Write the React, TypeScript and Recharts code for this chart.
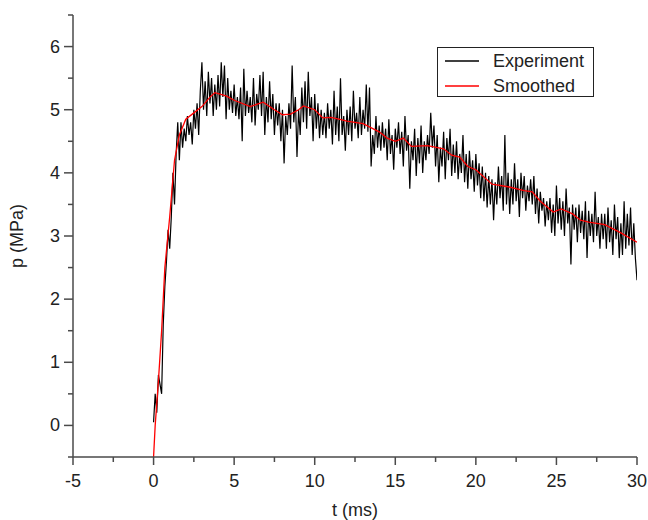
import React from 'react';
import { LineChart, Line, XAxis, YAxis, Legend, Label } from 'recharts';

// experiment samples, one every 0.1 ms starting at t = 0
const EXP_T0 = 0;
const EXP_STEP = 0.1;
const EXP_P = [
  0.05, 0.5, 0.2, 0.8, 0.65, 0.5, 1.6, 2.2, 2.6, 3.1,
  2.8, 3.3, 4.0, 3.5, 4.3, 4.8, 4.2, 4.8, 4.4, 4.7,
  4.5, 4.9, 4.6, 4.8, 4.45, 5.0, 4.7, 5.1, 4.6, 5.3,
  5.75, 5.0, 5.45, 4.9, 5.6, 5.1, 5.5, 4.9, 5.4, 5.0,
  5.55, 5.05, 5.75, 5.2, 5.7, 4.85, 5.5, 5.0, 5.3, 4.95,
  5.4, 4.9, 5.2, 4.85, 5.35, 4.5, 5.65, 4.9, 5.3, 4.95,
  5.2, 4.8, 5.5, 4.75, 5.25, 5.0, 5.55, 4.9, 5.6, 4.6,
  5.2, 4.8, 5.45, 4.85, 5.25, 4.6, 5.1, 4.75, 5.1, 4.5,
  5.0, 4.15, 4.9, 4.6, 5.1, 4.7, 5.7, 4.8, 5.2, 4.25,
  5.0, 4.6, 5.35, 4.8, 5.45, 4.7, 5.6, 4.9, 5.2, 4.5,
  5.25, 4.7, 5.1, 4.55, 5.0, 4.6, 4.95, 4.55, 5.1, 4.7,
  5.0, 4.45, 5.3, 4.6, 5.05, 4.5, 5.5, 4.6, 4.9, 4.35,
  5.0, 4.6, 5.05, 4.5, 5.3, 4.7, 4.95, 4.55, 5.2, 4.6,
  5.0, 4.7, 5.4, 4.65, 5.35, 4.1, 4.6, 4.3, 4.9, 4.4,
  4.75, 4.35, 4.8, 4.4, 4.7, 4.2, 4.85, 4.3, 4.6, 4.05,
  4.7, 4.4, 4.8, 4.3, 4.65, 4.1, 4.9, 4.35, 4.6, 3.75,
  4.5, 4.2, 4.7, 3.95, 4.55, 4.15, 4.75, 4.0, 4.5, 4.2,
  4.6, 4.3, 4.95, 4.4, 4.75, 4.1, 4.6, 3.85, 4.4, 4.1,
  4.65, 3.9, 4.55, 4.2, 4.7, 3.95, 4.45, 4.0, 4.5, 3.9,
  4.3, 4.0, 4.6, 3.85, 4.3, 3.75, 4.35, 3.9, 4.2, 3.7,
  4.3, 3.8, 4.15, 3.6, 4.1, 3.55, 4.0, 3.45, 3.95, 3.5,
  3.9, 3.25, 3.85, 3.5, 4.1, 3.6, 3.95, 3.4, 4.6, 3.5,
  4.0, 3.35, 3.9, 3.5, 4.15, 3.55, 3.9, 3.3, 4.0, 3.6,
  3.95, 3.4, 3.8, 3.55, 3.9, 3.5, 3.95, 3.35, 3.75, 3.2,
  3.7, 3.4, 3.6, 3.15, 3.55, 3.25, 3.6, 3.05, 3.5, 3.0,
  3.8, 3.2, 3.6, 3.1, 3.55, 3.0, 3.75, 3.2, 3.45, 2.55,
  3.5, 3.1, 3.45, 2.9, 3.5, 3.05, 3.4, 2.95, 3.55, 2.65,
  3.4, 3.0, 3.35, 2.9, 3.7, 3.0, 3.3, 2.8, 3.35, 2.95,
  3.35, 2.8, 3.45, 2.9, 3.25, 2.7, 3.5, 2.95, 3.3, 2.65,
  3.2, 2.7, 3.55, 2.8, 3.35, 2.85, 3.45, 2.7, 3.2, 2.65,
  2.3,
];

// smoothed curve
const SMOOTH_T = [
  0, 0.1, 0.3, 0.5, 0.7, 1.0, 1.3, 1.6, 2.0, 2.5, 3.0, 3.5, 3.8, 4.5, 5.0,
  6.0, 6.8, 7.5, 8.0, 8.5, 9.0, 9.3, 10.0, 10.5, 11.0, 11.5, 12.0, 13.0,
  14.0, 14.5, 15.0, 15.5, 16.0, 17.0, 18.0, 18.5, 19.0, 19.5, 20.0, 21.0,
  22.0, 23.0, 23.5, 24.0, 24.8, 25.3, 26.0, 26.5, 27.0, 28.0, 29.0, 30.0,
];
const SMOOTH_P = [
  -0.5, 0, 0.7, 1.5, 2.5, 3.3, 4.2, 4.6, 4.85, 4.95, 5.05, 5.2, 5.27, 5.22, 5.15,
  5.05, 5.12, 5.0, 4.92, 4.93, 5.0, 5.06, 5.0, 4.87, 4.88, 4.85, 4.82, 4.78,
  4.65, 4.55, 4.5, 4.55, 4.42, 4.43, 4.38, 4.28, 4.25, 4.1, 4.05, 3.82,
  3.78, 3.72, 3.7, 3.55, 3.38, 3.43, 3.35, 3.25, 3.22, 3.18, 3.05, 2.9,
];

const X_TICKS = [-5, -2.5, 0, 2.5, 5, 7.5, 10, 12.5, 15, 17.5, 20, 22.5, 25, 27.5, 30];
const Y_TICKS = [-0.5, 0, 0.5, 1, 1.5, 2, 2.5, 3, 3.5, 4, 4.5, 5, 5.5, 6, 6.5];

const SERIES = [
  { name: 'Experiment', color: '#000000' },
  { name: 'Smoothed', color: '#ff0000' },
];

const experiment = EXP_P.map((p, i) => ({ t: EXP_T0 + i * EXP_STEP, p }));
const smoothed = SMOOTH_T.map((t, i) => ({ t, p: SMOOTH_P[i] }));

const AXIS = '#4a4a4a';
const FONT = '"Liberation Sans", Arial, sans-serif';

function XTick({ x, y, payload }: any) {
  const major = payload.value % 5 === 0;
  return (
    <g>
      <line x1={x} x2={x} y1={y} y2={y + (major ? 8 : 5)} stroke={AXIS} strokeWidth={1.5} />
      {major && (
        <text x={x} y={y + 24} textAnchor="middle" dominantBaseline="central"
          fontFamily={FONT} fontSize={18} fill="#222">
          {payload.value}
        </text>
      )}
    </g>
  );
}

function YTick({ x, y, payload }: any) {
  const major = Number.isInteger(payload.value);
  return (
    <g>
      <line x1={x} x2={x - (major ? 9 : 5)} y1={y} y2={y} stroke={AXIS} strokeWidth={1.5} />
      {major && (
        <text x={x - 13} y={y} textAnchor="end" dominantBaseline="central"
          fontFamily={FONT} fontSize={18} fill="#222">
          {payload.value}
        </text>
      )}
    </g>
  );
}

function LegendBox() {
  return (
    <div style={{
      position: 'relative', width: 155, height: 48, border: '1.5px solid #222',
      background: '#fff', fontFamily: FONT, fontSize: 18, color: '#222',
    }}>
      {SERIES.map((s, i) => (
        <div key={s.name} style={{ position: 'absolute', left: 0, top: 2 + i * 25, height: 22, width: '100%' }}>
          <svg width={36} height={22} style={{ position: 'absolute', left: 6, top: 0 }}>
            <line x1={1} x2={35} y1={11} y2={11} stroke={s.color} strokeWidth={1.5} />
          </svg>
          <span style={{ position: 'absolute', left: 55, top: 0, lineHeight: '22px', whiteSpace: 'nowrap' }}>{s.name}</span>
        </div>
      ))}
    </div>
  );
}

export default function App() {
  return (
    <div style={{ position: 'absolute', left: 0, top: 0, width: 648, height: 520, background: '#fff' }}>
      <LineChart width={648} height={520} margin={{ top: 15, right: 11, bottom: 23, left: 0 }}>
        <XAxis
          type="number"
          dataKey="t"
          domain={[-5, 30]}
          ticks={X_TICKS}
          interval={0}
          height={40}
          tickSize={0}
          tickMargin={0}
          tickLine={false}
          tick={<XTick />}
          axisLine={{ stroke: AXIS, strokeWidth: 1.5 }}
          allowDataOverflow
        >
          <Label
            content={({ viewBox }: any) => (
              <text x={viewBox.x + viewBox.width / 2} y={510} textAnchor="middle" dominantBaseline="central"
                fontFamily={FONT} fontSize={18} fill="#222">t (ms)</text>
            )}
          />
        </XAxis>
        <YAxis
          type="number"
          dataKey="p"
          domain={[-0.5, 6.5]}
          ticks={Y_TICKS}
          interval={0}
          width={73}
          tickSize={0}
          tickMargin={0}
          tickLine={false}
          tick={<YTick />}
          axisLine={{ stroke: AXIS, strokeWidth: 1.5 }}
          allowDataOverflow
        >
          <Label
            content={({ viewBox }: any) => {
              const cy = viewBox.y + viewBox.height / 2;
              return (
                <text x={17} y={cy} transform={`rotate(-90, 17, ${cy})`} textAnchor="middle"
                  dominantBaseline="central" fontFamily={FONT} fontSize={18} fill="#222">p (MPa)</text>
              );
            }}
          />
        </YAxis>
        <Legend
          layout="vertical"
          align="center"
          verticalAlign="middle"
          wrapperStyle={{ left: 437, top: 47, width: 'auto' }}
          content={() => <LegendBox />}
        />
        <Line data={experiment} dataKey="p" name={SERIES[0].name} stroke={SERIES[0].color}
          strokeWidth={1.2} dot={false} type="linear" isAnimationActive={false} />
        <Line data={smoothed} dataKey="p" name={SERIES[1].name} stroke={SERIES[1].color}
          strokeWidth={1.3} dot={false} type="linear" isAnimationActive={false} />
      </LineChart>
    </div>
  );
}
